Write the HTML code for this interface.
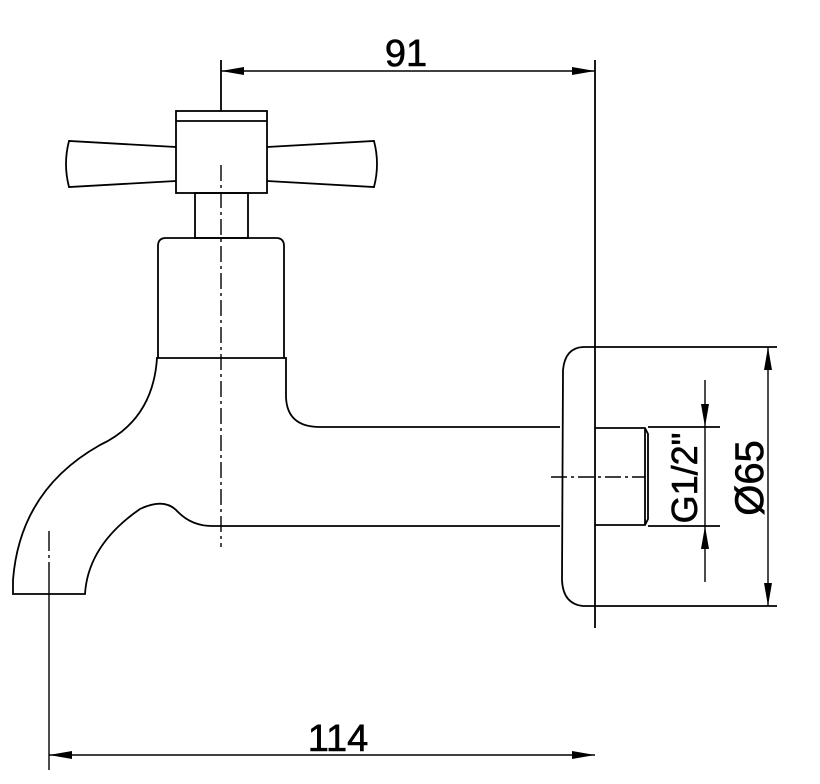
<!DOCTYPE html>
<html><head><meta charset="utf-8"><style>html,body{margin:0;padding:0;background:#fff}svg{display:block}</style></head><body>
<svg width="820" height="784" viewBox="0 0 820 784" xmlns="http://www.w3.org/2000/svg" fill="none" stroke="#000" stroke-width="1.8">
<!-- handle -->
<rect x="176" y="111" width="91" height="82"/>
<line x1="176" y1="121" x2="267" y2="121"/>
<path d="M176 147 L69 141 Q63 164 69 187 L176 181"/>
<path d="M267 147 L374 141 Q380 164 374 187 L267 181"/>
<rect x="195" y="193" width="53" height="45"/>
<path d="M158 358 L158 246 Q158 238 166 238 L276 238 Q284 238 284 246 L284 358"/>
<!-- lower body -->
<path d="M156 358 L286 358 L286 397 Q287 427 320 427 L560 427"/>
<path d="M157 358 Q153 420 100 445 Q20 490 13 580 L13 594 L85 594 Q88 545 140 509 Q165 497 178 512 Q192 526 212 526 L560 526"/>
<!-- escutcheon -->
<path d="M595 347 L583 347 Q565 348 563 370 L562 580 Q563 604 583 606 L595 606"/>
<line x1="595" y1="347" x2="777" y2="347"/>
<line x1="595" y1="606" x2="777" y2="606"/>
<line x1="595" y1="60" x2="595" y2="628"/>
<!-- thread -->
<path d="M595 428 L645 428 L648 434 L648 519 L645 525 L595 525"/>
<line x1="645" y1="428" x2="645" y2="525"/>
<line x1="648" y1="427" x2="720" y2="427"/>
<line x1="648" y1="526" x2="720" y2="526"/>
<!-- centerlines -->
<line x1="221" y1="60" x2="221" y2="111"/>
<line x1="221" y1="165" x2="221" y2="547" stroke-dasharray="16,4,3,4" stroke-width="1.4"/>
<line x1="49" y1="531" x2="49" y2="770" stroke-dasharray="20,4,3,4,1000" stroke-width="1.4"/>
<line x1="551" y1="477" x2="645" y2="477" stroke-dasharray="16,4,3,4" stroke-width="1.4"/>
<!-- dims -->
<line x1="221" y1="71" x2="595" y2="71" stroke-width="1.4"/>
<path d="M221 71 L244 67 L244 75Z M595 71 L572 67 L572 75Z" fill="#000" stroke="none"/>
<line x1="49" y1="755" x2="595" y2="755" stroke-width="1.4"/>
<path d="M49 755 L72 751 L72 759Z M595 755 L572 751 L572 759Z" fill="#000" stroke="none"/>
<line x1="768" y1="347" x2="768" y2="606" stroke-width="1.4"/>
<path d="M768 347 L764 370 L772 370Z M768 606 L764 583 L772 583Z" fill="#000" stroke="none"/>
<line x1="705" y1="380" x2="705" y2="582" stroke-width="1.4"/>
<path d="M705 427 L701 404 L709 404Z M705 526 L701 549 L709 549Z" fill="#000" stroke="none"/>
<g fill="#000" stroke="#000" stroke-width="0.6" font-family="Liberation Sans, sans-serif">
<text x="406" y="66" font-size="38" text-anchor="middle">91</text>
<text x="338" y="751" font-size="38" text-anchor="middle">114</text>
<text transform="translate(697,478) rotate(-90)" font-size="36" text-anchor="middle">G1/2"</text>
<text transform="translate(763,478) rotate(-90)" font-size="40" text-anchor="middle">Ø65</text>
</g>
</svg>
</body></html>
